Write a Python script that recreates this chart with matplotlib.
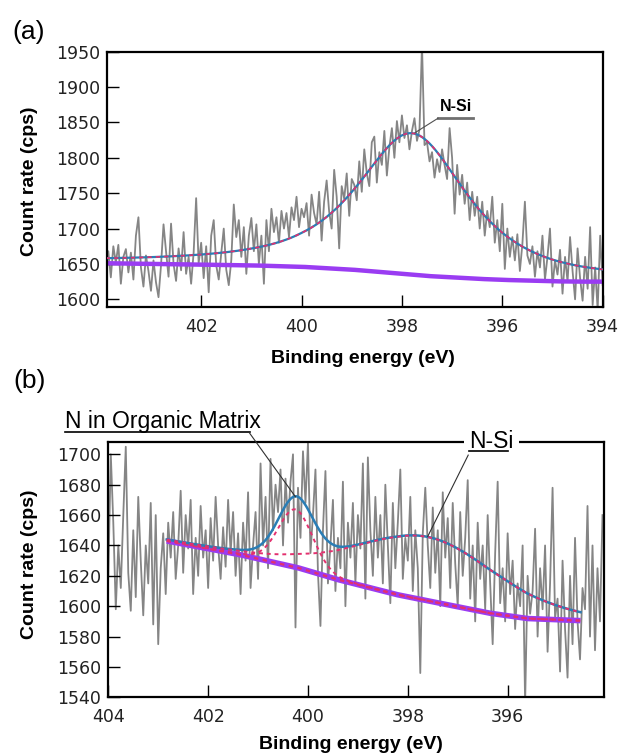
import numpy as np
import matplotlib.pyplot as plt

plt.rcParams['font.family'] = ['DejaVu Sans']

# ---- panel (a): N 1s raw spectrum, 0.05 eV steps from 403.90 eV down ----
a_start, a_step = 403.90, 0.05
a_counts = [
    1640, 1668, 1631, 1675, 1652, 1677, 1622, 1660, 1671, 1638,
    1666, 1628, 1690, 1716, 1645, 1618, 1662, 1640, 1612, 1655,
    1624, 1603, 1648, 1706, 1668, 1632, 1707, 1650, 1626, 1672,
    1641, 1695, 1636, 1660, 1622, 1666, 1743, 1651, 1680, 1630,
    1675, 1610, 1690, 1712, 1648, 1628, 1665, 1700, 1642, 1620,
    1655, 1734, 1688, 1712, 1660, 1702, 1636, 1690, 1715, 1668,
    1706, 1650, 1690, 1622, 1712, 1668, 1728, 1695, 1716, 1680,
    1725, 1700, 1722, 1688, 1730, 1712, 1745, 1702, 1728, 1716,
    1736, 1690, 1748, 1722, 1706, 1752, 1683, 1738, 1768, 1724,
    1700, 1783, 1745, 1672, 1760, 1742, 1778, 1718, 1770, 1762,
    1740, 1795, 1752, 1812, 1778, 1760, 1822, 1830, 1765, 1808,
    1790, 1838, 1775, 1815, 1842, 1800, 1852, 1822, 1860, 1828,
    1846, 1812, 1838, 1856, 1824, 1840, 1960, 1818, 1822, 1795,
    1808, 1772, 1798, 1780, 1812, 1790, 1770, 1842, 1800, 1721,
    1790, 1748, 1776, 1735, 1765, 1712, 1752, 1718, 1745, 1700,
    1738, 1690, 1725, 1702, 1745, 1680, 1712, 1668, 1735, 1643,
    1700, 1660, 1688, 1655, 1692, 1640, 1678, 1738, 1662, 1650,
    1675, 1632, 1668, 1645, 1690, 1628, 1660, 1700, 1618, 1655,
    1635, 1670, 1608, 1660, 1625, 1688, 1640, 1600, 1672, 1630,
    1598, 1660, 1615, 1702, 1592, 1645, 1585, 1690, 1620,
]
# background
a_bg_e = [403.9, 403.0, 402.0, 401.0, 400.0, 399.0, 398.5, 398.0,
          397.5, 397.0, 396.5, 396.0, 395.5, 395.0, 394.5, 394.0]
a_bg_c = [1651, 1650, 1649, 1648, 1646, 1642, 1639, 1636,
          1633, 1631, 1629, 1627.5, 1626.5, 1625.5, 1625, 1625]
# fitted peak: center, height, fwhm, lorentz fraction
a_nsi = (397.8, 200, 2.63, 0.8)

# ---- panel (b) ----
b_start, b_step = 404.00, 0.05
b_counts = [
    1620, 1700, 1655, 1598, 1640, 1612, 1660, 1705, 1622, 1597,
    1650, 1606, 1672, 1630, 1594, 1640, 1615, 1668, 1588, 1660,
    1575, 1625, 1648, 1608, 1655, 1632, 1662, 1618, 1640, 1676,
    1622, 1660, 1638, 1670, 1608, 1645, 1620, 1666, 1632, 1650,
    1612, 1658, 1630, 1672, 1640, 1618, 1652, 1626, 1670, 1635,
    1662, 1620, 1648, 1608, 1655, 1630, 1675, 1612, 1640, 1662,
    1618, 1694, 1640, 1672, 1625, 1697, 1650, 1680, 1662, 1690,
    1640, 1684, 1655, 1682, 1700, 1586, 1678, 1645, 1702, 1668,
    1708, 1635, 1660, 1690, 1622, 1587, 1650, 1689, 1615, 1640,
    1670, 1610, 1645, 1625, 1682, 1600, 1655, 1632, 1668, 1615,
    1660, 1638, 1694, 1605, 1698, 1650, 1620, 1672, 1632, 1660,
    1615, 1680, 1640, 1602, 1668, 1625, 1655, 1690, 1618, 1645,
    1630, 1672, 1610, 1650, 1625, 1556, 1648, 1678, 1640, 1612,
    1665, 1622, 1650, 1600, 1675, 1632, 1658, 1612, 1668, 1628,
    1600, 1662, 1620, 1645, 1683, 1605, 1640, 1590, 1655, 1618,
    1640, 1598, 1660, 1615, 1575, 1635, 1682, 1602, 1625, 1590,
    1648, 1608, 1630, 1585, 1615, 1600, 1640, 1536, 1620, 1595,
    1610, 1651, 1580, 1625, 1598, 1640, 1570, 1615, 1678, 1592,
    1605, 1557, 1630, 1585, 1553, 1620, 1575, 1645, 1590, 1565,
    1612, 1598, 1666, 1580, 1640, 1571, 1625, 1590, 1660,
]
b_bg_e = [402.83, 401.4, 400.21, 399.42, 398.23, 397.44, 396.4, 395.61, 394.54]
b_bg_c = [1643, 1634.2, 1625.4, 1617.7, 1607.7, 1602.5, 1595.6, 1591.9, 1590.5]
b_org = (400.25, 38, 0.82, 0.1)
b_nsi = (397.6, 42, 3.4, 0.2)

PURPLE = '#9a3cf2'
BLUE = '#2a7db5'
RED = '#e3306e'
GRAY = '#858585'


def pvoigt(e, center, height, fwhm, eta):
    d2 = ((e - center) / fwhm) ** 2
    return height * (eta / (1 + 4 * d2) + (1 - eta) * np.exp(-4 * np.log(2) * d2))


def style_axes(ax):
    for s in ax.spines.values():
        s.set_linewidth(1.6)
    ax.tick_params(direction='in', length=8.5, width=1.0, labelsize=12.5,
                   top=False, right=False, labelcolor='#222222')
    ax.tick_params(axis='x', pad=8)
    ax.tick_params(axis='y', pad=5)


fig = plt.figure(figsize=(6.21, 7.56), dpi=100)

# ---------------- (a) ----------------
ax1 = fig.add_axes([0.1728, 0.5935, 0.7977, 0.3381])
a_e = a_start - a_step * np.arange(len(a_counts))
ax1.plot(a_e, a_counts, color=GRAY, lw=1.3, zorder=1)
fa = np.linspace(403.9, 394.0, 400)
bg_a = np.interp(fa, a_bg_e[::-1], a_bg_c[::-1])
env_a = bg_a + pvoigt(fa, *a_nsi)
ax1.plot(fa, bg_a, color=PURPLE, lw=3.2, zorder=2, solid_capstyle='butt')
ax1.plot(fa, env_a, color=BLUE, lw=1.6, zorder=3)
ax1.plot(fa, env_a, color=RED, lw=1.2, ls=(0, (2.5, 2.5)), zorder=4)
ax1.set_xlim(403.87, 394.0)
ax1.set_ylim(1588.7, 1950)
ax1.set_xticks([402, 400, 398, 396, 394])
ax1.set_yticks(np.arange(1600, 1951, 50))
style_axes(ax1)

ax1.text(397.25, 1866.6, 'N-Si', fontsize=11.5, fontweight='bold',
         family='Liberation Sans', ha='left', va='baseline', zorder=6)
ax1.plot([397.28, 396.58], [1856, 1856], color='#707070', lw=2, zorder=6)
ax1.plot([397.28, 397.74], [1856, 1835.5], color='#505050', lw=0.8, zorder=6)

# ---------------- (b) ----------------
ax2 = fig.add_axes([0.1744, 0.0776, 0.7982, 0.3381])
b_e = b_start - b_step * np.arange(len(b_counts))
ax2.plot(b_e, b_counts, color=GRAY, lw=1.3, zorder=1)
fb = np.linspace(402.83, 394.54, 400)
bg_b = np.interp(fb, b_bg_e[::-1], b_bg_c[::-1])
org = bg_b + pvoigt(fb, *b_org)
nsi = bg_b + pvoigt(fb, *b_nsi)
env_b = bg_b + pvoigt(fb, *b_org) + pvoigt(fb, *b_nsi)
ax2.plot(fb, bg_b, color=PURPLE, lw=4, zorder=2, solid_capstyle='butt')
ax2.plot(fb, bg_b, color=RED, lw=1.6, ls=(0, (2, 2)), zorder=3)
ax2.plot(fb, env_b, color=BLUE, lw=1.8, zorder=3)
ax2.plot(fb, org, color=RED, lw=1.4, ls=(0, (2, 2)), zorder=4)
ax2.plot(fb, nsi, color=RED, lw=1.4, ls=(0, (2, 2)), zorder=4)
ax2.set_xlim(404.0, 394.07)
ax2.set_ylim(1540, 1708.3)
ax2.set_xticks([404, 402, 400, 398, 396])
ax2.set_yticks(np.arange(1540, 1701, 20))
style_axes(ax2)

ax2.text(404.87, 1717.3, 'N in Organic Matrix', fontsize=16.5,
         family='Liberation Sans', ha='left', va='baseline', zorder=6)
ax2.plot([404.87, 401.17], [1714.8, 1714.8], color='black', lw=1.2,
         clip_on=False, zorder=6)
ax2.plot([401.17, 400.25], [1714.0, 1672.0], color='#303030', lw=0.8,
         clip_on=False, zorder=6)

ax2.text(396.77, 1703.9, 'N-Si', fontsize=16.5, family='Liberation Sans',
         ha='left', va='baseline', zorder=6,
         bbox=dict(boxstyle='square,pad=0.22', fc='white', ec='none'))
ax2.plot([396.77, 395.99], [1702.3, 1702.3], color='black', lw=1.2,
         clip_on=False, zorder=7)
ax2.plot([396.79, 397.6], [1699.5, 1646.0], color='#303030', lw=0.8,
         clip_on=False, zorder=6)

# ---------------- labels ----------------
lab = dict(fontsize=14, fontweight='bold', family='Liberation Sans',
           ha='center', va='center')
fig.text(0.5837, 0.526, 'Binding energy (eV)', **lab)
fig.text(0.5646, 0.0146, 'Binding energy (eV)', **lab)
fig.text(0.0483, 0.7606, 'Count rate (cps)', rotation=90, **lab)
fig.text(0.0483, 0.254, 'Count rate (cps)', rotation=90, **lab)
fig.text(0.0467, 0.9577, '(a)', fontsize=19, family='Liberation Sans',
         ha='center', va='center')
fig.text(0.0475, 0.4954, '(b)', fontsize=19, family='Liberation Sans',
         ha='center', va='center')

fig.savefig('out.png', dpi=100)
